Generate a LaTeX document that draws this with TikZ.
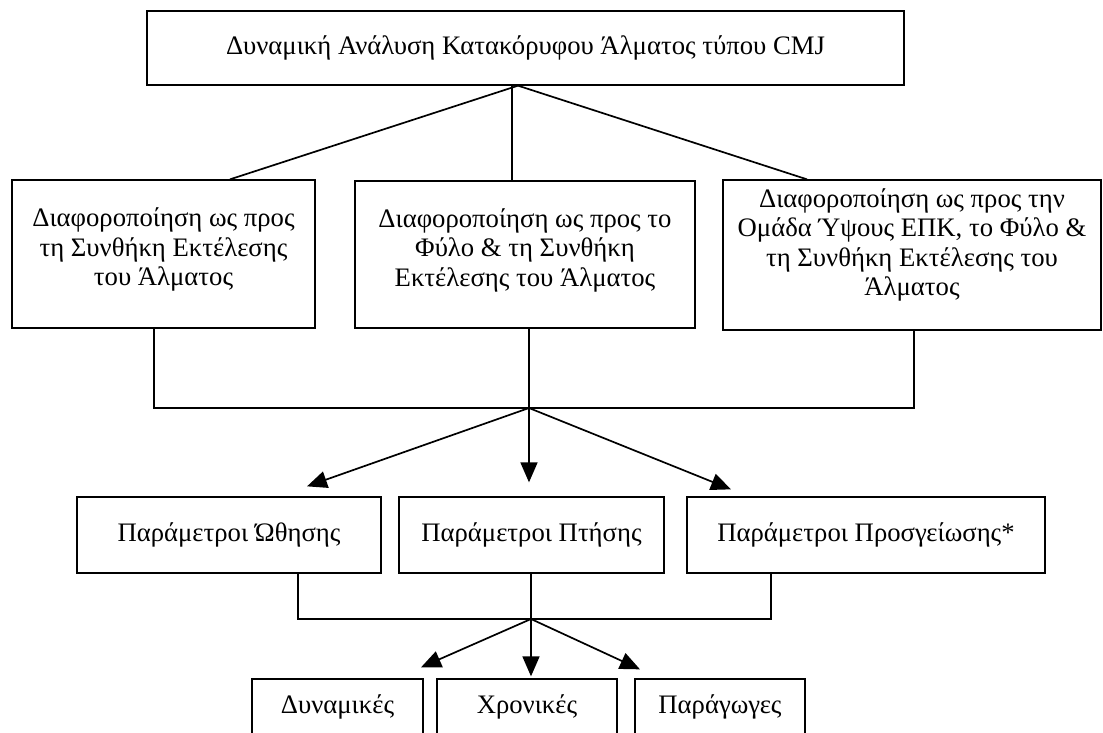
\documentclass[tikz,border=0pt]{standalone}
\usepackage{fontspec}
\setmainfont{Liberation Serif}
\usetikzlibrary{arrows.meta,calc}

\begin{document}
\begin{tikzpicture}[
    x=1pt, y=-1pt,
    box/.style={draw, line width=1.3pt, inner sep=0pt, align=center, font=\fontsize{26.7}{29.5}\selectfont},
    link/.style={line width=1.7pt},
    arr/.style={link, -{Triangle[length=20pt, width=17pt]}}
  ]
  \useasboundingbox (0,0) rectangle (1103,733);
  \node[box, minimum width=757pt, minimum height=74pt] (cmj) at (525.5,48) {Δυναμική Ανάλυση Κατακόρυφου Άλματος τύπου CMJ};

  % first level
  \node[box, minimum width=303pt, minimum height=148pt, text depth=14pt] (cond) at (163.5,254) {Διαφοροποίηση ως προς\\τη Συνθήκη Εκτέλεσης\\του Άλματος};
  \node[box, minimum width=340pt, minimum height=147pt, text depth=14pt] (sex) at (525,254.5) {Διαφοροποίηση ως προς το\\Φύλο \& τη Συνθήκη\\Εκτέλεσης του Άλματος};
  \node[box, minimum width=378pt, minimum height=150pt, text depth=26pt] (group) at (912,255) {Διαφοροποίηση ως προς την\\Ομάδα Ύψους ΕΠΚ, το Φύλο \&\\τη Συνθήκη Εκτέλεσης του\\Άλματος};

  % parameters
  \node[box, minimum width=304pt, minimum height=76pt] (push) at (229,535) {Παράμετροι Ώθησης};
  \node[box, minimum width=265pt, minimum height=76pt] (flight) at (531.5,535) {Παράμετροι Πτήσης};
  \node[box, minimum width=358pt, minimum height=76pt] (land) at (866,535) {Παράμετροι Προσγείωσης*};

  % kinds
  \node[box, minimum width=171pt, minimum height=56pt] (dyn) at (337.5,707) {Δυναμικές};
  \node[box, minimum width=180pt, minimum height=56pt] (time) at (527,707) {Χρονικές};
  \node[box, minimum width=170pt, minimum height=56pt] (deriv) at (720,707) {Παράγωγες};

  \coordinate (fork) at ($(cmj.south)+(-7.5,0)$);
  \coordinate (join1) at (529,408);
  \coordinate (join2) at (531,619);

  \draw[link] (fork) -- ($(cond.north)+(66.5,0)$);
  \draw[link] (fork) -- ($(group.north)+(-105,0)$);
  \draw[link] ($(sex.north |- cmj.south)+(-13,0)$) -- ($(sex.north)+(-13,0)$);

  \draw[link] ($(cond.south)+(-9.5,0)$) |- (join1) -| ($(group.south)+(2,0)$);
  \draw[link] (join1 |- sex.south) -- (join1);
  \draw[arr] (join1) -- ($(push.north)+(78,-10)$);
  \draw[arr] (join1) -- ($(join1 |- flight.north)+(0,-14)$);
  \draw[arr] (join1) -- ($(land.north)+(-135,-7)$);

  \draw[link] ($(push.south)+(69,0)$) |- (join2) -| ($(land.south)+(-95,0)$);
  \draw[link] (join2 |- flight.south) -- (join2);
  \draw[arr] (join2) -- ($(dyn.north)+(83.5,-11)$);
  \draw[arr] (join2) -- ($(join2 |- time.north)+(0,-2)$);
  \draw[arr] (join2) -- ($(deriv.north)+(-80,-9)$);
\end{tikzpicture}
\end{document}
